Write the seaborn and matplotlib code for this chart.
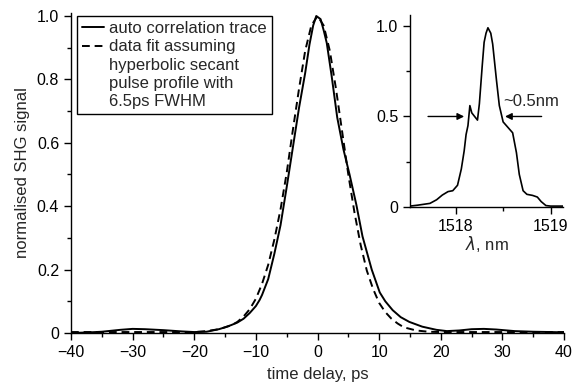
import numpy as np
import pandas as pd
import matplotlib
matplotlib.use('Agg')
import matplotlib.pyplot as plt
from matplotlib.lines import Line2D
from matplotlib.ticker import MultipleLocator
import seaborn as sns

# ── Data ───────────────────────────────────────────────────────────────────────
delay_ps = [-40, -37, -35, -32, -30, -28, -25, -22, -20, -18, -16, -15, -14,
            -13, -12, -11, -10, -9.4, -9, -8, -7, -6, -5, -4, -3, -2, -1.3,
            -0.7, -0.2, 0.5, 1, 1.5, 2.3, 3.2, 4.2, 5.2, 6.3, 7.3, 8.8, 10.1,
            11, 12.2, 13.5, 14.9, 17, 19.3, 21, 23, 25, 27, 29, 32, 35, 38, 40]
shg_trace = [0.0, 0.002, 0.004, 0.010, 0.013, 0.012, 0.009, 0.005, 0.003,
             0.004, 0.012, 0.018, 0.025, 0.033, 0.045, 0.063, 0.085, 0.104,
             0.12, 0.17, 0.25, 0.34, 0.46, 0.585, 0.71, 0.82, 0.91, 0.97, 1.0,
             0.99, 0.955, 0.915, 0.81, 0.68, 0.58, 0.50, 0.405, 0.305, 0.20,
             0.128, 0.10, 0.072, 0.05, 0.035, 0.02, 0.01, 0.006, 0.008, 0.012,
             0.013, 0.011, 0.006, 0.004, 0.003, 0.002]

fit_delay_ps = [-40, -30, -25, -20, -18, -16, -14, -13, -12, -11, -10, -9, -8,
                -7, -6, -5, -4, -3, -2, -1, 0, 1, 2, 3, 4, 5, 6, 7, 8, 9, 10,
                11, 12, 13, 14, 16, 18, 20, 25, 30, 40]
shg_fit = [0.003, 0.003, 0.003, 0.003, 0.006, 0.012, 0.024, 0.035, 0.052,
           0.075, 0.108, 0.155, 0.215, 0.295, 0.39, 0.505, 0.64, 0.77, 0.89,
           0.97, 1.0, 0.97, 0.89, 0.77, 0.635, 0.5, 0.38, 0.278, 0.197, 0.14,
           0.095, 0.066, 0.045, 0.03, 0.018, 0.008, 0.004, 0.003, 0.003,
           0.003, 0.003]

wavelength_nm = [1517.52, 1517.60, 1517.73, 1517.80, 1517.86, 1517.92,
                 1517.97, 1518.02, 1518.06, 1518.09, 1518.11, 1518.13,
                 1518.15, 1518.17, 1518.20, 1518.23, 1518.25, 1518.28,
                 1518.30, 1518.32, 1518.34, 1518.37, 1518.39, 1518.43,
                 1518.46, 1518.50, 1518.55, 1518.60, 1518.64, 1518.67,
                 1518.71, 1518.75, 1518.81, 1518.86, 1518.90, 1518.95,
                 1519.00, 1519.13]
spectrum = [0.005, 0.01, 0.02, 0.04, 0.066, 0.085, 0.09, 0.12, 0.21, 0.31,
            0.40, 0.45, 0.56, 0.52, 0.50, 0.48, 0.57, 0.78, 0.91, 0.96, 0.99,
            0.96, 0.90, 0.70, 0.56, 0.47, 0.44, 0.41, 0.30, 0.18, 0.09, 0.07,
            0.064, 0.055, 0.03, 0.008, 0.005, 0.005]

x_ticks = [-40, -30, -20, -10, 0, 10, 20, 30, 40]
y_ticks = [0, 0.2, 0.4, 0.6, 0.8, 1.0]
y_ticklabels = ['0', '0.2', '0.4', '0.6', '0.8', '1.0']
inset_x_ticks = [1518, 1519]
inset_y_ticks = [0, 0.5, 1.0]
inset_y_ticklabels = ['0', '0.5', '1.0']

legend_lines = ['auto correlation trace', 'data fit assuming',
                'hyperbolic secant', 'pulse profile with', '6.5ps FWHM']

# ── Style ──────────────────────────────────────────────────────────────────────
sns.set_theme(style='ticks')
plt.rcParams['font.family'] = ['Liberation Sans', 'DejaVu Sans']
plt.rcParams['mathtext.fontset'] = 'dejavusans'
plt.rcParams.update({
    'axes.edgecolor': 'black', 'axes.linewidth': 1.0,
    'xtick.color': 'black', 'ytick.color': 'black',
    'xtick.major.size': 5, 'ytick.major.size': 5,
    'xtick.minor.size': 3, 'ytick.minor.size': 3,
    'xtick.major.width': 1.0, 'ytick.major.width': 1.0,
    'xtick.minor.width': 1.0, 'ytick.minor.width': 1.0,
    'xtick.labelsize': 11.5, 'ytick.labelsize': 11.5,
})

trace_df = pd.DataFrame({'delay': delay_ps, 'signal': shg_trace})
fit_df = pd.DataFrame({'delay': fit_delay_ps, 'signal': shg_fit})
spec_df = pd.DataFrame({'wl': wavelength_nm, 'power': spectrum})

fig = plt.figure(figsize=(5.75, 3.88), dpi=100)

# ── Main autocorrelation plot ──────────────────────────────────────────────────
ax = fig.add_axes([71 / 575, 55 / 388, 493 / 575, 320.2 / 388])
sns.lineplot(data=trace_df, x='delay', y='signal', ax=ax, color='black',
             linewidth=1.4, sort=False)
sns.lineplot(data=fit_df, x='delay', y='signal', ax=ax, color='black',
             linewidth=1.4, linestyle=(0, (4, 2.5)), sort=False)
ax.set_xlim(-40, 40)
ax.set_ylim(0, 1.01)
ax.set_xticks(x_ticks)
ax.set_yticks(y_ticks)
ax.set_yticklabels(y_ticklabels)
ax.xaxis.set_minor_locator(MultipleLocator(5))
ax.yaxis.set_minor_locator(MultipleLocator(0.1))
ax.set_xlabel('time delay, ps', fontsize=12, labelpad=5)
ax.set_ylabel('normalised SHG signal', fontsize=12, labelpad=5)
sns.despine(ax=ax)

handles = [Line2D([], [], color='black', lw=1.4),
           Line2D([], [], color='black', lw=1.4, ls=(0, (4, 2.5)))] + \
          [Line2D([], [], color='none')] * 3
leg = ax.legend(handles, legend_lines, loc='upper left',
                bbox_to_anchor=(0.012, 0.99), borderaxespad=0,
                fontsize=12, frameon=True, fancybox=False, framealpha=1,
                edgecolor='black', handlelength=1.35, handletextpad=0.3,
                labelspacing=0.2, borderpad=0.3)
leg.get_frame().set_linewidth(1.0)

# ── Inset: optical spectrum ────────────────────────────────────────────────────
axin = fig.add_axes([410 / 575, 181 / 388, 153 / 575, 191.9 / 388])
axin.patch.set_alpha(0)
sns.lineplot(data=spec_df, x='wl', y='power', ax=axin, color='black',
             linewidth=1.2, sort=False)
axin.set_xlim(1517.52, 1519.13)
axin.set_ylim(0, 1.06)
axin.set_xticks(inset_x_ticks)
axin.set_yticks(inset_y_ticks)
axin.set_yticklabels(inset_y_ticklabels)
axin.xaxis.set_minor_locator(MultipleLocator(0.5))
axin.yaxis.set_minor_locator(MultipleLocator(0.25))
axin.set_xlabel(r'$\lambda$, nm', fontsize=12, labelpad=0)
axin.set_ylabel('')
sns.despine(ax=axin)

arrow = dict(arrowstyle='-|>', color='black', lw=1.0, mutation_scale=10,
             shrinkA=0, shrinkB=0)
axin.annotate('', xy=(1518.09, 0.5), xytext=(1517.71, 0.5), arrowprops=arrow)
axin.annotate('', xy=(1518.52, 0.5), xytext=(1518.905, 0.5), arrowprops=arrow)
axin.text(1518.50, 0.585, '~0.5nm', fontsize=12, ha='left', va='center')

fig.savefig('out.png', dpi=100)
